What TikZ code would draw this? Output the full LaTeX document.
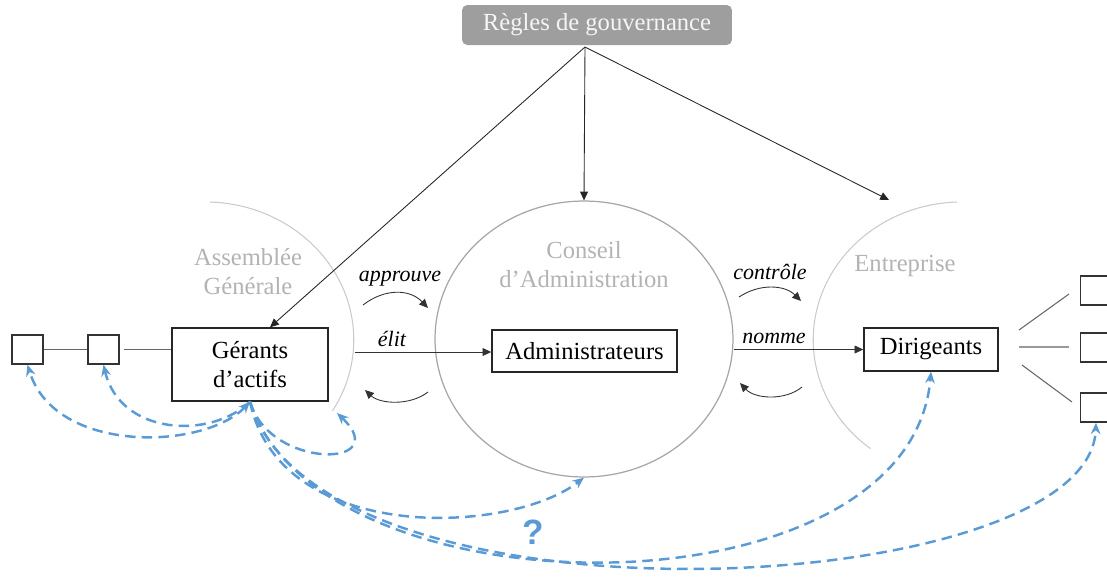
\documentclass[tikz,border=0pt]{standalone}
\usepackage{fontspec}
\setmainfont{Liberation Serif}
\newfontfamily\qfont{Liberation Sans}
\usetikzlibrary{arrows.meta,shapes.geometric,calc}
\definecolor{qblue}{HTML}{5B9BD5}
\definecolor{arcgray}{HTML}{CACACA}
\definecolor{cagray}{HTML}{A6A6A6}
\definecolor{labgray}{HTML}{B3B3B3}
\definecolor{govfill}{HTML}{9E9E9E}
\begin{document}
\begin{tikzpicture}[x=0.02cm,y=-0.02cm,
  box/.style={draw=black!85,line width=0.8pt,inner sep=0pt,align=center,font=\fontsize{14}{17}\selectfont},
  sq/.style={draw=black!80,line width=0.8pt,minimum width=0.62cm,minimum height=0.58cm,inner sep=0pt},
  govarr/.style={draw=black!85,line width=0.5pt,-{Triangle[length=5pt,width=4.5pt]}},
  curarr/.style={draw=black!80,line width=0.5pt,-{Triangle[length=5pt,width=4.5pt]}},
  bluetip/.style={-{Stealth[length=6.5pt,width=5.5pt]}},
  bluedash/.style={draw=qblue,line width=1.4pt,dash pattern=on 6pt off 3.5pt,bluetip},
  verb/.style={font=\fontsize{12.5}{15}\selectfont\itshape},
  grouplabel/.style={text=labgray,font=\fontsize{14}{16.5}\selectfont,align=center},
  thinline/.style={draw=black!60,line width=0.6pt},
]
\useasboundingbox (0,0) rectangle (1107,576);

% governance box
\node[rounded corners=3pt, fill=govfill, minimum width=5.4cm, minimum height=0.8cm,
      text=white!92!gray, font=\fontsize{14}{17}\selectfont] (gov) at (597,25) {Règles de gouvernance};
\coordinate (govsrc) at (585,47);

% circles
\node[ellipse, draw=cagray, line width=0.7pt, minimum width=5.96cm, minimum height=5.52cm, inner sep=0pt] (ca) at (584,339) {};
\draw[arcgray,line width=0.6pt] (210,202) arc[start angle=88,end angle=-31,x radius=2.98cm,y radius=2.76cm];
\draw[arcgray,line width=0.6pt] (957,202) arc[start angle=92,end angle=232,x radius=2.98cm,y radius=2.76cm];

% group labels
\node[grouplabel] (aglab) at (248,272) {Assemblée\\Générale};
\node[grouplabel] (calab) at (584,265) {Conseil\\d’Administration};
\node[grouplabel] (entlab) at (905,266) {Entreprise};

% boxes
\node[box,minimum width=3.12cm,minimum height=1.46cm] (gerants) at (250,364.5) {Gérants\\d’actifs};
\node[box,minimum width=3.7cm,minimum height=0.84cm] (admin) at (584.5,351) {Administrateurs};
\node[box,minimum width=2.68cm,minimum height=0.86cm] (dirig) at (931,349.5) {Dirigeants};

% squares
\node[sq] (sq1) at (27.5,349.5) {};
\node[sq] (sq2) at (103.5,349.5) {};
\node[sq] (r1) at (1096,290.5) {};
\node[sq] (r2) at (1096,347.5) {};
\node[sq] (r3) at (1096,407.5) {};

\draw[thinline] (sq1.east) -- (sq2.west);
\draw[thinline,shorten <=2.5pt] (sq2.east) -- (sq2.east -| gerants.west);
\coordinate (l1a) at (1019,330); \coordinate (l1b) at (1069,294);
\coordinate (l2a) at (1019,347); \coordinate (l2b) at (1069,347);
\coordinate (l3a) at (1022,365); \coordinate (l3b) at (1072,402);
\draw[thinline] (l1a) -- (l1b);
\draw[thinline,draw=black!40] (l2a) -- (l2b);
\draw[thinline] (l3a) -- (l3b);

% governance arrows
\coordinate (gertop) at ($(gerants.north)+(20,0)$);
\coordinate (enttop) at (889,200);
\draw[govarr] (govsrc) -- (gertop);
\draw[govarr] (govsrc) -- (ca.north);
\draw[govarr] (govsrc) -- (enttop);

% straight arrows
\coordinate (agE) at (355,352);
\draw[curarr] (agE) -- (agE -| admin.west);
\draw[curarr] (ca.east |- dirig.west) -- (dirig.west);

% verb labels
\node[verb] (approuve) at (400,279) {approuve};
\node[verb] (elit) at (392,339) {élit};
\node[verb] (controle) at (770,272) {contrôle};
\node[verb] (nomme) at (774,338) {nomme};

% curved arrows
\coordinate (c1a) at (363,305); \coordinate (c1b) at (428,308);
\coordinate (c2a) at (428,392); \coordinate (c2b) at (365,390);
\coordinate (c3a) at (739,297); \coordinate (c3b) at (801,301);
\coordinate (c4a) at (802,387); \coordinate (c4b) at (740,383);
\draw[curarr] (c1a) .. controls (385,288) and (410,289) .. (c1b);
\draw[curarr] (c2a) .. controls (410,406) and (380,404) .. (c2b);
\draw[curarr] (c3a) .. controls (760,283) and (785,285) .. (c3b);
\draw[curarr] (c4a) .. controls (785,401) and (755,399) .. (c4b);

% blue dashed arrows
\coordinate (agend) at (337,413);
\draw[bluedash,{Stealth[length=6.5pt,width=5.5pt]}-{Stealth[length=6.5pt,width=5.5pt]}] (gerants.south) .. controls (205,450) and (55,455) .. (sq1.south);
\draw[bluedash] (gerants.south) .. controls (210,440) and (120,435) .. (sq2.south);
\draw[bluedash] (gerants.south) .. controls (270,470) and (395,468) .. (agend);
\draw[bluedash] (gerants.south) .. controls (280,545) and (510,535) .. (ca.south);
\draw[bluedash] (gerants.south) .. controls (320,620) and (910,620) .. (dirig.south);
\draw[bluedash] (gerants.south) .. controls (320,640) and (1090,600) .. (r3.south);

\node[text=qblue,font=\qfont\fontsize{20}{20}\selectfont\bfseries] (q) at (533,532) {?};
\end{tikzpicture}
\end{document}
